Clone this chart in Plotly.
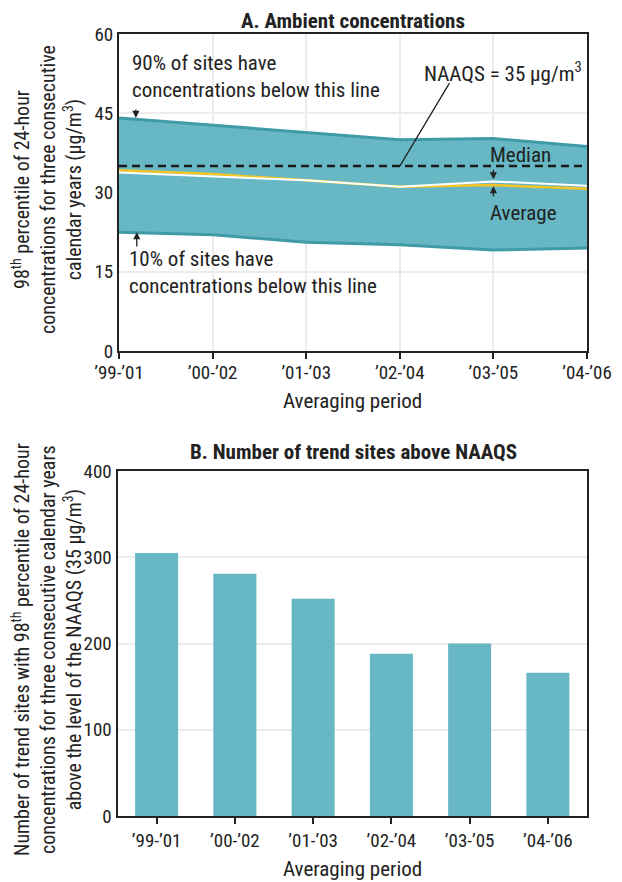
import plotly.graph_objects as go

periods = ["’99-’01", "’00-’02", "’01-’03", "’02-’04", "’03-’05", "’04-’06"]
pct90 = [44.1, 42.7, 41.4, 40.0, 40.2, 38.7]
pct10 = [22.5, 22.0, 20.6, 20.1, 19.1, 19.5]
median = [33.8, 33.0, 32.3, 31.1, 32.1, 31.3]
average = [34.2, 33.5, 32.3, 31.1, 31.4, 30.7]
naaqs = 35
sites_above = [305, 281, 252, 188, 200, 166]

FONT = "Roboto Condensed, Liberation Sans Narrow, DejaVu Sans Condensed, sans-serif"
TEAL = "#67b8c4"
TEAL_DARK = "#3f9ba8"
GRID = "#ececec"
INK = "#222222"

# page has an 8px body margin; figure fills the rest of the 622x882 window
W, H = 614, 874


def px_x(X):
    return (X - 8) / W


def px_y(Y):
    return 1 - (Y - 8) / H


fig = go.Figure()

# Panel A
fig.add_trace(go.Scatter(x=periods, y=pct10, mode="lines",
                         line=dict(color=TEAL_DARK, width=3), xaxis="x", yaxis="y",
                         showlegend=False, hoverinfo="skip"))
fig.add_trace(go.Scatter(x=periods, y=pct90, mode="lines", fill="tonexty",
                         fillcolor=TEAL, line=dict(color=TEAL_DARK, width=3),
                         xaxis="x", yaxis="y", showlegend=False))
fig.add_trace(go.Scatter(x=periods, y=average, mode="lines",
                         line=dict(color="#f5c523", width=2.5), xaxis="x", yaxis="y",
                         showlegend=False))
fig.add_trace(go.Scatter(x=periods, y=median, mode="lines",
                         line=dict(color="white", width=2), xaxis="x", yaxis="y",
                         showlegend=False))
fig.add_trace(go.Scatter(x=periods, y=[naaqs] * len(periods), mode="lines",
                         line=dict(color="#1a1a1a", width=2.5, dash="8px,5px"),
                         xaxis="x", yaxis="y", showlegend=False))

# Panel B
fig.add_trace(go.Bar(x=periods, y=sites_above, marker=dict(color=TEAL, line=dict(width=0)),
                     width=0.55, xaxis="x2", yaxis="y2", showlegend=False))

axis_common = dict(showline=True, linecolor=INK, linewidth=2, mirror=True,
                   tickfont=dict(family=FONT, size=19, color=INK),
                   zeroline=False, automargin=False)

fig.update_layout(
    width=W, height=H,
    margin=dict(l=0, r=0, t=0, b=0),
    paper_bgcolor="white", plot_bgcolor="white",
    font=dict(family=FONT, color=INK),
    xaxis=dict(domain=[px_x(119), px_x(587)], anchor="y", type="category",
               range=[0, 5], showgrid=True, gridcolor=GRID, gridwidth=2,
               ticks="outside", ticklen=6, tickwidth=2, tickcolor=INK,
               ticklabelstandoff=-3,
               **axis_common),
    yaxis=dict(domain=[px_y(351), px_y(34)], anchor="x", range=[0, 60],
               tickvals=[0, 15, 30, 45, 60], showgrid=True, gridcolor=GRID, gridwidth=2,
               ticks="", **axis_common),
    xaxis2=dict(domain=[px_x(117.5), px_x(587)], anchor="y2", type="category",
                range=[-0.5, 5.5], showgrid=False,
                ticks="outside", ticklen=6, tickwidth=2, tickcolor=INK,
                **axis_common),
    yaxis2=dict(domain=[px_y(816), px_y(471)], anchor="x2", range=[0, 400],
                tickvals=[0, 100, 200, 300, 400], showgrid=True, gridcolor=GRID, gridwidth=2,
                ticks="", **axis_common),
)

ann_font = dict(family=FONT, size=21, color=INK)
title_font = dict(family=FONT, size=21, color=INK)
ytitle_font = dict(family=FONT, size=20, color=INK)
arrow_style = dict(showarrow=True, arrowhead=2, arrowsize=1.1, arrowwidth=1.3,
                   arrowcolor=INK, xref="x", yref="y", axref="x", ayref="y", text="")

annotations = [
    # panel titles
    dict(text="<b>A. Ambient concentrations</b>", xref="paper", yref="paper",
         x=px_x(353), y=1.0, xanchor="center", yanchor="top", showarrow=False,
         font=title_font, borderpad=0),
    dict(text="<b>B. Number of trend sites above NAAQS</b>", xref="paper", yref="paper",
         x=px_x(353), y=px_y(452), xanchor="center", yanchor="middle", showarrow=False,
         font=title_font),
    # axis titles
    dict(text="Averaging period", xref="paper", yref="paper", x=px_x(352), y=px_y(401),
         xanchor="center", yanchor="middle", showarrow=False, font=title_font),
    dict(text="Averaging period", xref="paper", yref="paper", x=px_x(352), y=px_y(869),
         xanchor="center", yanchor="middle", showarrow=False, font=title_font),
    dict(text="98<sup>th</sup> percentile of 24-hour<br>concentrations for three consecutive<br>calendar years (µg/m<sup>3</sup>)",
         xref="paper", yref="paper", x=px_x(47), y=px_y(190), textangle=-90,
         xanchor="center", yanchor="middle", showarrow=False, font=ytitle_font),
    dict(text="Number of trend sites with 98<sup>th</sup> percentile of 24-hour<br>concentrations for three consecutive calendar years<br>above the level of the NAAQS (35 µg/m<sup>3</sup>)",
         xref="paper", yref="paper", x=px_x(47), y=px_y(650), textangle=-90,
         xanchor="center", yanchor="middle", showarrow=False, font=ytitle_font),
    # 90% label
    dict(text="90% of sites have<br>concentrations below this line", xref="x", yref="y",
         x=0.12, y=51.9, xanchor="left", yanchor="middle", align="left",
         showarrow=False, font=ann_font),
    dict(x=0.18, y=pct90[0], ax=0.18, ay=46.0, **arrow_style),
    # 10% label
    dict(text="10% of sites have<br>concentrations below this line", xref="x", yref="y",
         x=0.085, y=14.9, xanchor="left", yanchor="middle", align="left",
         showarrow=False, font=ann_font),
    dict(x=0.19, y=pct10[0], ax=0.19, ay=19.5, **arrow_style),
    # NAAQS label
    dict(text="NAAQS = 35 µg/m<sup>3</sup>", xref="x", yref="y",
         x=4.97, y=52.9, xanchor="right", yanchor="middle", showarrow=False, font=ann_font),
    dict(x=3, y=naaqs, ax=3.54, ay=51.0, xref="x", yref="y", axref="x", ayref="y",
         text="", showarrow=True, arrowhead=0, arrowwidth=1.3, arrowcolor=INK),
    # Median / Average
    dict(text="Median", xref="x", yref="y", x=3.94, y=37.1, xanchor="left",
         yanchor="middle", showarrow=False, font=ann_font),
    dict(x=4, y=32.5, ax=4, ay=34.6, **arrow_style),
    dict(text="Average", xref="x", yref="y", x=3.94, y=26.1, xanchor="left",
         yanchor="middle", showarrow=False, font=ann_font),
    dict(x=4, y=31.2, ax=4, ay=29.0, **arrow_style),
]
fig.update_layout(annotations=annotations)

fig.write_html("out.html")
